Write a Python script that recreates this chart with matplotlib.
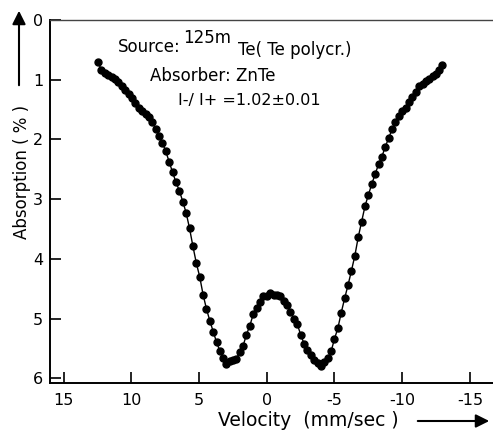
import matplotlib.pyplot as plt

# Mossbauer spectrum (velocity in mm/sec, absorption in %)
velocity = [12.45, 12.2, 11.95, 11.7, 11.45, 11.2, 10.95, 10.7, 10.45, 10.2,
            9.95, 9.7, 9.45, 9.2, 8.95, 8.7, 8.45, 8.2, 7.95, 7.7,
            7.45, 7.2, 6.95, 6.7, 6.45, 6.2, 5.95, 5.7, 5.45, 5.2,
            4.95, 4.7, 4.45, 4.2, 3.95, 3.7, 3.45, 3.2, 3.0, 2.75,
            2.5, 2.25, 2.0, 1.75, 1.5, 1.25, 1.0, 0.75, 0.5, 0.25,
            0.0, -0.25, -0.5, -0.75, -1.0, -1.25, -1.5, -1.75, -2.0, -2.25,
            -2.5, -2.75, -3.0, -3.25, -3.5, -3.75, -4.0, -4.25, -4.5, -4.75,
            -5.0, -5.25, -5.5, -5.75, -6.0, -6.25, -6.5, -6.75, -7.0, -7.25,
            -7.5, -7.75, -8.0, -8.25, -8.5, -8.75, -9.0, -9.25, -9.5, -9.75,
            -10.0, -10.25, -10.5, -10.75, -11.0, -11.25, -11.5, -11.75, -12.0, -12.25,
            -12.5, -12.75, -12.95]
absorption = [0.71, 0.84, 0.88, 0.92, 0.95, 0.99, 1.04, 1.10, 1.17, 1.24,
              1.31, 1.39, 1.47, 1.53, 1.57, 1.63, 1.71, 1.82, 1.94, 2.06,
              2.20, 2.38, 2.55, 2.72, 2.86, 3.04, 3.23, 3.49, 3.79, 4.07,
              4.30, 4.60, 4.84, 5.04, 5.22, 5.40, 5.55, 5.66, 5.76, 5.71,
              5.70, 5.68, 5.56, 5.46, 5.27, 5.12, 4.93, 4.82, 4.72, 4.63,
              4.62, 4.58, 4.60, 4.61, 4.63, 4.70, 4.77, 4.89, 5.00, 5.09,
              5.27, 5.42, 5.52, 5.61, 5.70, 5.75, 5.80, 5.72, 5.66, 5.55,
              5.34, 5.16, 4.90, 4.66, 4.44, 4.20, 3.95, 3.64, 3.38, 3.12,
              2.93, 2.75, 2.58, 2.42, 2.29, 2.12, 1.98, 1.83, 1.71, 1.61,
              1.53, 1.47, 1.37, 1.29, 1.20, 1.10, 1.07, 1.03, 0.99, 0.94,
              0.90, 0.84, 0.75]

x_ticks = [15, 10, 5, 0, -5, -10, -15]
y_ticks = [0, 1, 2, 3, 4, 5, 6]

plt.rcParams['axes.unicode_minus'] = False

W, H = 493, 433
fig = plt.figure(figsize=(W / 100, H / 100), dpi=100)
ax = fig.add_axes([50 / W, 50 / H, 1 - 50 / W, 363 / H])

ax.plot(velocity, absorption, '-o', color='black', lw=1.0, ms=5)

ax.set_xlim(16, -16.7)
ax.set_ylim(6.08, 0)
ax.set_xticks(x_ticks)
ax.set_xticklabels([str(t) for t in x_ticks])
ax.set_yticks(y_ticks)
ax.tick_params(direction='in', length=8, width=1.2, labelsize=11.5)
ax.tick_params(axis='x', pad=7)
ax.tick_params(axis='y', pad=5)
ax.spines['right'].set_visible(False)
ax.spines['left'].set_linewidth(1.4)
ax.spines['bottom'].set_linewidth(1.4)
ax.spines['top'].set_linewidth(1.0)
ax.spines['top'].set_color('#444444')

# annotations
fig.text(118 / W, 1 - 47 / H, 'Source:', fontsize=12, va='center', ha='left')
fig.text(183 / W, 1 - 38 / H, '125m', fontsize=12, va='center', ha='left')
fig.text(238 / W, 1 - 50 / H, 'Te( Te polycr.)', fontsize=12, va='center', ha='left')
fig.text(150 / W, 1 - 76 / H, 'Absorber: ZnTe', fontsize=12, va='center', ha='left')
fig.text(178 / W, 1 - 100 / H, 'I-/ I+ =1.02\u00b10.01', fontsize=11.5, va='center', ha='left')

# axis labels with arrows
fig.text(22 / W, 1 - 172 / H, 'Absorption ( % )', fontsize=12, rotation=90,
         va='center', ha='center')
ax.annotate('', xy=(19 / W, 1 - 8 / H), xytext=(19 / W, 1 - 88 / H),
            xycoords='figure fraction', textcoords='figure fraction',
            arrowprops=dict(arrowstyle='-|>', color='black', lw=1.5, mutation_scale=20))
fig.text(218 / W, 1 - 421 / H, 'Velocity  (mm/sec )', fontsize=13.5, va='center', ha='left')
ax.annotate('', xy=(492 / W, 1 - 421 / H), xytext=(415 / W, 1 - 421 / H),
            xycoords='figure fraction', textcoords='figure fraction',
            arrowprops=dict(arrowstyle='-|>', color='black', lw=1.5, mutation_scale=20))

fig.savefig('out.png', dpi=100)
